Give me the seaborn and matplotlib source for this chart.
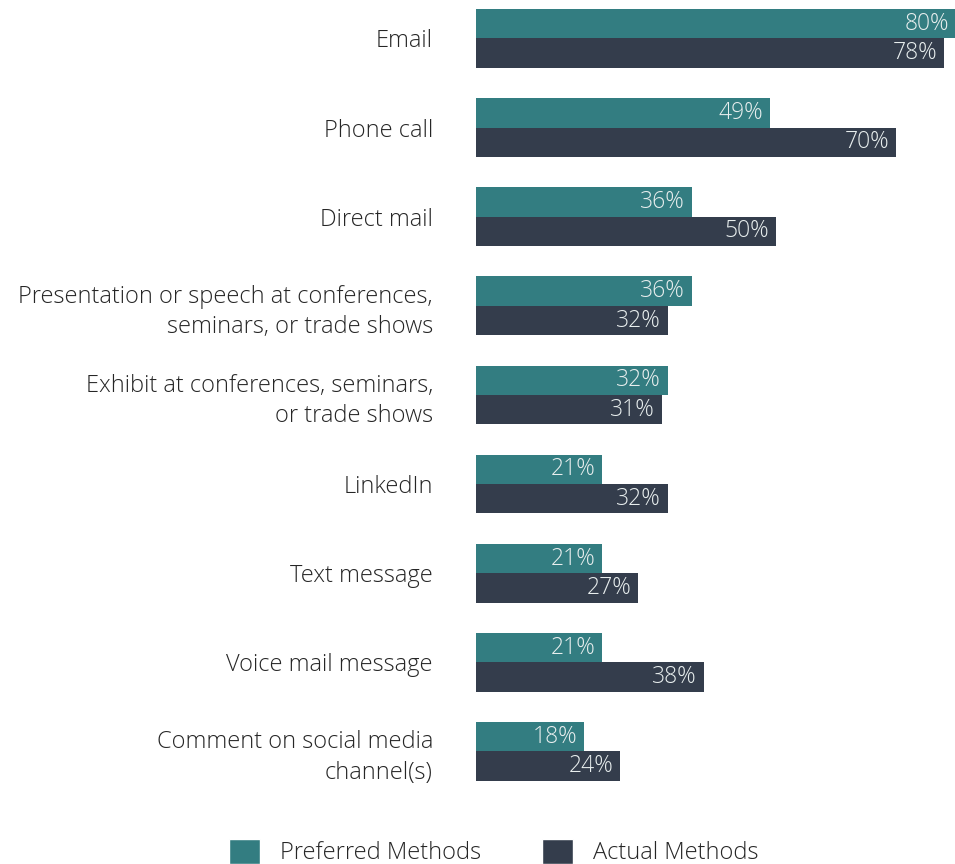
import matplotlib
matplotlib.use('Agg')
import matplotlib.pyplot as plt
import pandas as pd
import seaborn as sns
from matplotlib.patches import Patch

# Data
methods = ['Email', 'Phone call', 'Direct mail',
           'Presentation or speech at conferences,\nseminars, or trade shows',
           'Exhibit at conferences, seminars,\nor trade shows',
           'LinkedIn', 'Text message', 'Voice mail message',
           'Comment on social media\nchannel(s)']
preferred = [80, 49, 36, 36, 32, 21, 21, 21, 18]
actual = [78, 70, 50, 32, 31, 32, 27, 38, 24]
series = ['Preferred Methods', 'Actual Methods']
colors = ['#337D81', '#343D4C']

df = pd.DataFrame({
    'method': methods * 2,
    'value': preferred + actual,
    'series': [series[0]] * len(methods) + [series[1]] * len(methods),
})

sns.set_style('white')
plt.rcParams['font.family'] = ['Open Sans', 'DejaVu Sans']

fig = plt.figure(figsize=(9.55, 8.64), dpi=100)
ax = fig.add_axes([0.4984, 0.0787, 0.5026, 0.918])

sns.barplot(data=df, y='method', x='value', hue='series', orient='h',
            palette=colors, width=0.66, saturation=1, ax=ax, legend=False,
            order=methods, hue_order=series, linewidth=0)

ax.set_xlim(0, 80)
ax.set_ylim(8.5, -0.4)
ax.set_xlabel('')
ax.set_ylabel('')
ax.set_xticks([])
sns.despine(ax=ax, left=True, bottom=True)
ax.tick_params(axis='y', length=0, pad=31)
for lbl in ax.get_yticklabels():
    lbl.set_fontsize(17)
    lbl.set_fontweight('light')
    lbl.set_color('#262626')
    lbl.set_linespacing(1.36)

# value labels, right-aligned just inside the bar ends
for cont in ax.containers:
    anns = ax.bar_label(cont, labels=[f'{v:.0f}%' for v in cont.datavalues],
                        padding=-5, color='#E8EEEE', fontsize=16.5,
                        fontweight='light')
    for a in anns:
        a.set_horizontalalignment('right')

handles = [Patch(facecolor=c, label=s) for c, s in zip(colors, series)]
fig.legend(handles=handles, loc='center', bbox_to_anchor=(0.517, 0.014),
           ncol=2, frameon=False, handlelength=1.3,
           handleheight=1.3, handletextpad=0.85, columnspacing=2.6,
           prop={'weight': 'light', 'size': 17})

fig.savefig('out.png', dpi=100)
